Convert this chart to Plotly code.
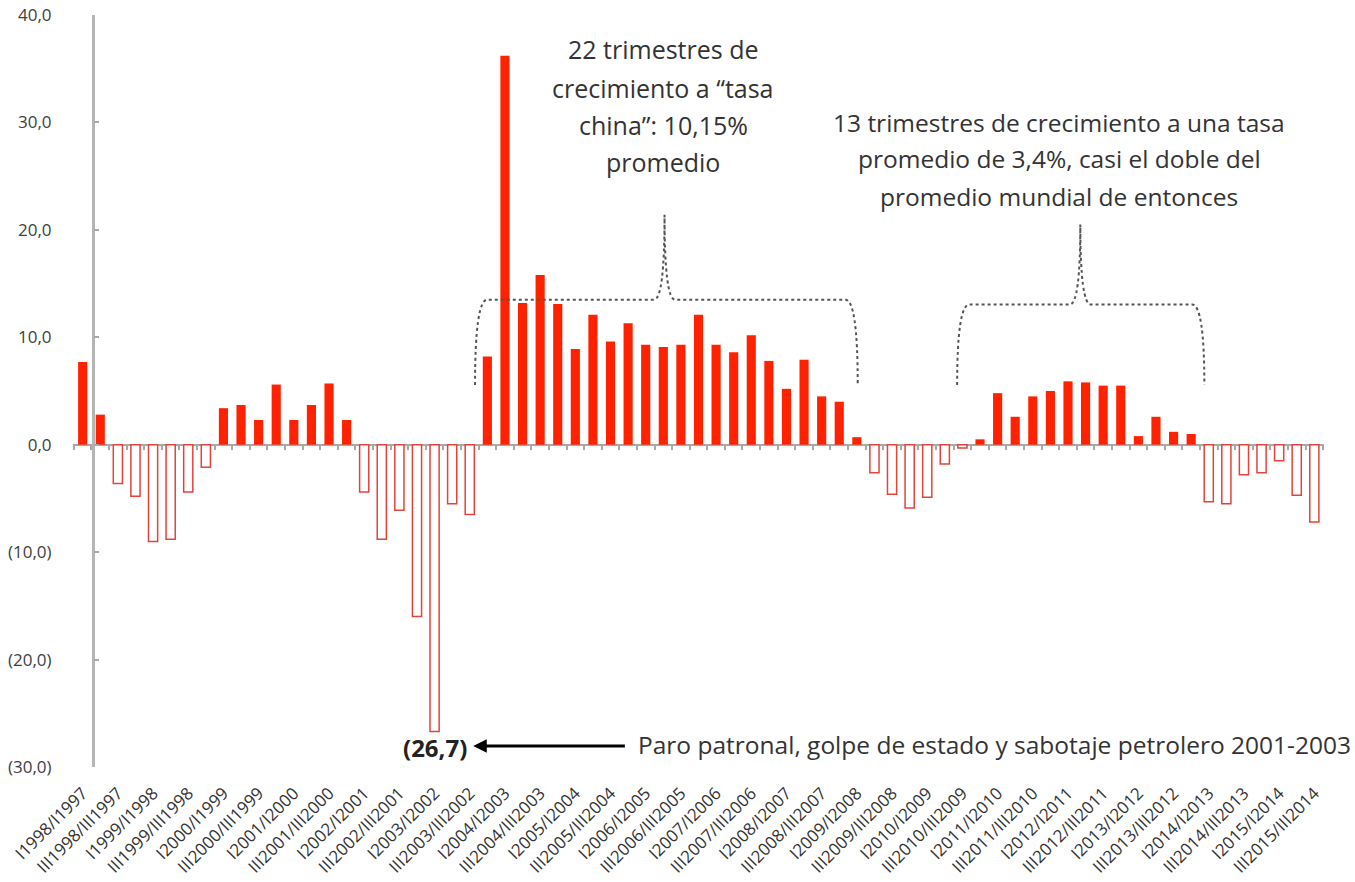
import plotly.graph_objects as go

# ---------------- data ----------------
years = list(range(1998, 2016))
quarters = ["I", "II", "III", "IV"]
categories = [f"{q}{y}/{q}{y-1}" for y in years for q in quarters][:71]

growth = [
    7.7, 2.8, -3.6, -4.8, -9.0, -8.8, -4.4, -2.1,
    3.4, 3.7, 2.3, 5.6, 2.3, 3.7, 5.7, 2.3,
    -4.4, -8.8, -6.1, -16.0, -26.7, -5.5, -6.5,
    8.2, 36.2, 13.2, 15.8, 13.1, 8.9, 12.1, 9.6, 11.3, 9.3, 9.1, 9.3,
    12.1, 9.3, 8.6, 10.2, 7.8, 5.2, 7.9, 4.5, 4.0, 0.7,
    -2.6, -4.6, -5.9, -4.9, -1.8, -0.3,
    0.5, 4.8, 2.6, 4.5, 5.0, 5.9, 5.8, 5.5, 5.5, 0.8, 2.6, 1.2, 1.0,
    -5.3, -5.5, -2.8, -2.6, -1.5, -4.7, -7.2,
]

y_tickvals = [-30, -20, -10, 0, 10, 20, 30, 40]
y_ticktext = ["(30,0)", "(20,0)", "(10,0)", "0,0", "10,0", "20,0", "30,0", "40,0"]

# ---------------- styling ----------------
RED = "#FF2200"
RED_LINE = "#E2443C"
GREY = "#B5B5B5"
FONT = "Open Sans"
XMIN, XMAX = -0.55, 70.55
YMIN, YMAX = -30, 40

x_idx = list(range(len(growth)))
fill_colors = [RED if v >= 0 else "#FFFFFF" for v in growth]
line_colors = [RED if v >= 0 else RED_LINE for v in growth]
line_widths = [0 if v >= 0 else 1.5 for v in growth]

fig = go.Figure()
fig.add_trace(go.Bar(
    x=x_idx, y=growth, width=0.52,
    marker=dict(color=fill_colors, line=dict(color=line_colors, width=line_widths)),
    hovertext=categories, showlegend=False,
))
# helper invisible trace so the zero-line tick axis renders
fig.add_trace(go.Scatter(x=[0], y=[0], xaxis="x2", yaxis="y", mode="markers",
                         marker=dict(opacity=0), showlegend=False, hoverinfo="skip"))

yaxis_x = 0.57
fig.update_layout(
    width=1355, height=882,
    margin=dict(l=73, r=31, t=15, b=115, autoexpand=False),
    paper_bgcolor="white", plot_bgcolor="white",
    font=dict(family=FONT, color="#333333"),
    bargap=0.4,
    xaxis=dict(
        range=[XMIN, XMAX], showgrid=False, zeroline=False, showline=False,
        automargin=False,
        tickmode="array", tickvals=x_idx[::2], ticktext=categories[::2],
        tickangle=-45, ticks="", tickfont=dict(size=17, color="#333333"),
        ticklabelstandoff=12, ticklabeloverflow="allow",
    ),
    xaxis2=dict(
        range=[XMIN, XMAX], overlaying="x", anchor="free", automargin=False,
        position=(0 - YMIN) / (YMAX - YMIN), side="bottom",
        showgrid=False, zeroline=False, showline=False, showticklabels=False,
        tickmode="array", tickvals=[i + 0.5 for i in range(-1, len(growth))],
        ticks="outside", ticklen=4, tickwidth=1.5, tickcolor="#A8A8A8",
    ),
    yaxis=dict(
        range=[YMIN, YMAX], showgrid=False, automargin=False,
        zeroline=True, zerolinecolor="#A8A8A8", zerolinewidth=2,
        anchor="free", position=(yaxis_x - XMIN) / (XMAX - XMIN),
        showline=True, linecolor=GREY, linewidth=2.5,
        ticks="inside", ticklen=5, tickcolor="#A8A8A8", tickwidth=1.5,
        tickmode="array", tickvals=y_tickvals, ticktext=y_ticktext,
        tickfont=dict(size=17, color="#404040"), ticklabelstandoff=37,
        ticklabeloverflow="allow",
    ),
)

# ---------------- curly brackets ----------------
def brace(xl, xr, xp, yb, yh, yp):
    c = 0.7
    s = 0.6
    return (f"M {xl},{yb} Q {xl},{yh} {xl + c},{yh} "
            f"L {xp - s},{yh} Q {xp},{yh} {xp},{yp} "
            f"Q {xp},{yh} {xp + s},{yh} "
            f"L {xr - c},{yh} Q {xr},{yh} {xr},{yb}")

for (xl, xr, xp, yb, yh, yp) in [
    (22.3, 44.05, 33.07, 5.55, 13.5, 21.4),
    (49.7, 63.75, 56.7, 5.55, 13.05, 20.5),
]:
    fig.add_shape(type="path", xref="x", yref="y",
                  path=brace(xl, xr, xp, yb, yh, yp),
                  line=dict(color="#555555", width=2, dash="dot"))

# ---------------- text annotations ----------------
block1 = ["22 trimestres de", "crecimiento a “tasa", "china”: 10,15%", "promedio"]
block1_y = [36.85, 33.2, 29.75, 26.35]
for t, yy in zip(block1, block1_y):
    fig.add_annotation(x=33.0, y=yy, xref="x", yref="y", text=t, showarrow=False,
                       font=dict(size=25, family=FONT, color="#333333"),
                       xanchor="center", yanchor="middle")

block2 = ["13 trimestres de crecimiento a una tasa",
          "promedio de 3,4%, casi el doble del",
          "promedio mundial de entonces"]
block2_y = [30.0, 26.6, 23.15]
for t, yy in zip(block2, block2_y):
    fig.add_annotation(x=55.5, y=yy, xref="x", yref="y", text=t, showarrow=False,
                       font=dict(size=24.5, family=FONT, color="#333333"),
                       xanchor="center", yanchor="middle")

fig.add_annotation(x=20.03, y=-28.15, xref="x", yref="y", text="<b>(26,7)</b>",
                   showarrow=False, font=dict(size=24, family=FONT, color="#222222"),
                   xanchor="center", yanchor="middle")
fig.add_annotation(x=31.45, y=-27.95, xref="x", yref="y",
                   text="Paro patronal, golpe de estado y sabotaje petrolero 2001-2003",
                   showarrow=False, font=dict(size=24.5, family=FONT, color="#333333"),
                   xanchor="left", yanchor="middle")
fig.add_annotation(x=22.2, y=-28.05, xref="x", yref="y", ax=30.9, ay=-28.05,
                   axref="x", ayref="y", text="", showarrow=True,
                   arrowhead=2, arrowsize=0.9, arrowwidth=3, arrowcolor="#000000")

fig.write_html("out.html", config={"displayModeBar": False},
               post_script="document.body.style.margin='0';")
